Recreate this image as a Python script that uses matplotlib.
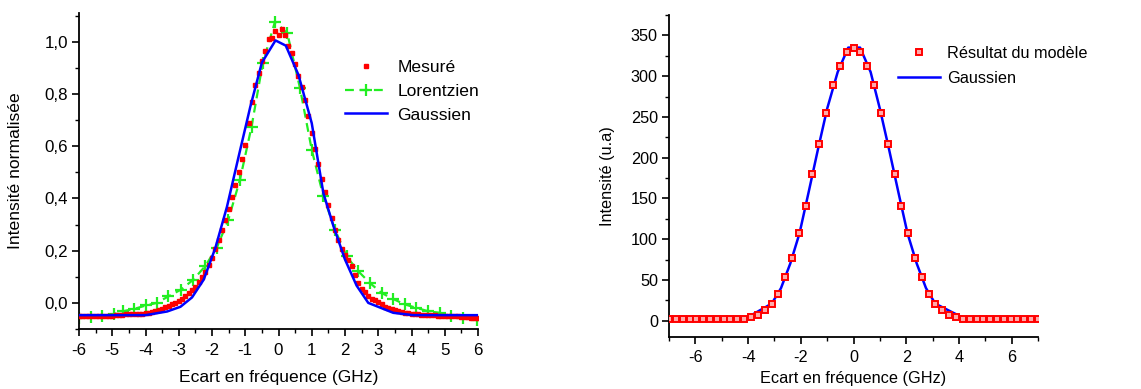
import numpy as np
import matplotlib
matplotlib.use("Agg")
import matplotlib.pyplot as plt
from matplotlib.ticker import MultipleLocator, FixedLocator

plt.rcParams['font.family'] = ['Liberation Sans', 'DejaVu Sans']
plt.rcParams['axes.unicode_minus'] = False

# ---------------- Left panel data ----------------
mesure_x = np.round(np.linspace(-6.0, 6.0, 121), 2)
mesure_y = [
    -0.052, -0.052, -0.051, -0.051, -0.050, -0.050, -0.050, -0.050, -0.050, -0.050,
    -0.049, -0.048, -0.046, -0.045, -0.044, -0.044, -0.043, -0.043, -0.042, -0.041,
    -0.040, -0.037, -0.034, -0.031, -0.027, -0.022, -0.017, -0.012, -0.006, 0.000,
    0.007, 0.015, 0.025, 0.036, 0.048, 0.062, 0.080, 0.098, 0.120, 0.145,
    0.172, 0.205, 0.240, 0.278, 0.318, 0.360, 0.405, 0.452, 0.500, 0.550,
    0.605, 0.690, 0.770, 0.835, 0.880, 0.925, 0.965, 1.010, 1.015, 1.040,
    1.025, 1.050, 1.025, 0.985, 0.955, 0.915, 0.870, 0.825, 0.775, 0.715,
    0.650, 0.590, 0.530, 0.475, 0.425, 0.375, 0.325, 0.280, 0.240, 0.205,
    0.185, 0.165, 0.140, 0.105, 0.078, 0.055, 0.040, 0.025, 0.015, 0.012,
    0.003, -0.005, -0.015, -0.020, -0.025, -0.028, -0.032, -0.035, -0.037, -0.040,
    -0.042, -0.043, -0.044, -0.045, -0.046, -0.046, -0.047, -0.048, -0.049, -0.050,
    -0.050, -0.051, -0.051, -0.052, -0.052, -0.053, -0.054, -0.055, -0.056, -0.057,
    -0.058,
]

lorentz_x = [-6.0, -5.65, -5.3, -4.95, -4.67, -4.34, -3.99, -3.66, -3.31, -2.93,
             -2.56, -2.21, -1.86, -1.51, -1.16, -0.81, -0.475, -0.105, 0.265, 0.647,
             1.0, 1.35, 1.7, 2.05, 2.4, 2.75, 3.1, 3.45, 3.8, 4.15,
             4.5, 4.85, 5.2, 5.55, 5.96]
lorentz_y = [-0.058, -0.055, -0.050, -0.043, -0.032, -0.023, -0.010, 0.000, 0.025, 0.051,
             0.089, 0.140, 0.210, 0.318, 0.471, 0.675, 0.917, 1.077, 1.032, 0.822,
             0.586, 0.408, 0.280, 0.178, 0.121, 0.076, 0.038, 0.015, -0.006, -0.019,
             -0.032, -0.038, -0.051, -0.057, -0.064]

gauss_l_x = [-6.0, -4.0, -3.35, -2.95, -2.6, -2.25, -1.9, -1.55, -1.2, -0.85,
             -0.5, -0.09, 0.22, 0.6, 1.0, 1.35, 1.65, 2.0, 2.35, 2.7,
             3.45, 4.05, 6.0]
gauss_l_y = [-0.047, -0.047, -0.033, -0.015, 0.021, 0.089, 0.210, 0.368, 0.560, 0.750,
             0.920, 1.005, 0.985, 0.873, 0.688, 0.420, 0.295, 0.166, 0.066, 0.000,
             -0.038, -0.047, -0.047]

left_yticks = [0.0, 0.2, 0.4, 0.6, 0.8, 1.0]
left_yticklabels = ['0,0', '0,2', '0,4', '0,6', '0,8', '1,0']
left_xticks = [-6, -5, -4, -3, -2, -1, 0, 1, 2, 3, 4, 5, 6]

# ---------------- Right panel data ----------------
modele_x = np.round(np.linspace(-7.0, 7.0, 55), 3)
modele_y = [2, 2, 2, 2, 2, 2, 2, 2, 2, 2, 2,
            2.5, 4, 7, 13, 21, 33, 53, 77, 107, 141,
            180, 217, 255, 289, 313, 330,
            335,
            330, 313, 289, 255, 217, 180,
            141, 107, 77, 53, 33, 21, 13, 7, 4, 2.5,
            2, 2, 2, 2, 2, 2, 2, 2, 2, 2, 2]

gauss_r_x = [-7.0, -5.0, -4.0, -3.1, -2.75, -2.4, -2.05, -1.7, -1.35, -1.0,
             -0.6, -0.2, 0.25, 0.65, 1.0, 1.35, 1.7, 2.05, 2.4, 2.75,
             3.1, 4.1, 4.7, 7.0]
gauss_r_y = [2, 2, 4.5, 21, 40, 70, 107, 158, 210, 260,
             305, 335, 335, 305, 260, 210, 158, 107, 70, 40,
             21, 4.5, 3, 2]

right_xticks = [-6, -4, -2, 0, 2, 4, 6]
right_yticks = [0, 50, 100, 150, 200, 250, 300, 350]

RED = '#ff0000'
GREEN = '#22ee22'
BLUE = '#0000ff'

fig = plt.figure(figsize=(11.41, 3.89), dpi=100)

def style_axes(ax, fs, pad):
    ax.spines['top'].set_visible(False)
    ax.spines['right'].set_visible(False)
    ax.spines['left'].set_linewidth(1.3)
    ax.spines['bottom'].set_linewidth(1.3)
    ax.tick_params(which='major', direction='out', length=5, width=1.2,
                   labelsize=fs, pad=pad, color='black')
    ax.tick_params(which='minor', direction='out', length=3, width=1.0, color='black')

# ---- Left ----
axL = fig.add_axes([79/1141, 1-329/389, (478-79)/1141, (329-13)/389])
axL.plot(mesure_x, mesure_y, linestyle='none', marker='s', ms=3.2, color=RED,
         mec=RED, label='Mesuré', zorder=3)
axL.plot(lorentz_x, lorentz_y, linestyle=(0, (4, 2.5)), lw=1.6, color=GREEN,
         marker='+', ms=8, mew=1.6, label='Lorentzien', zorder=2)
axL.plot(gauss_l_x, gauss_l_y, '-', lw=1.8, color=BLUE, label='Gaussien', zorder=4)
axL.set_xlim(-6, 6)
axL.set_ylim(-0.1, 1.11)
axL.xaxis.set_major_locator(FixedLocator(left_xticks))
axL.xaxis.set_minor_locator(MultipleLocator(0.5))
axL.yaxis.set_major_locator(FixedLocator(left_yticks))
axL.set_yticklabels(left_yticklabels)
axL.yaxis.set_minor_locator(MultipleLocator(0.1))
style_axes(axL, 12.2, 3)
axL.tick_params(axis='x', which='major', pad=5)
axL.set_xlabel('Ecart en fréquence (GHz)', fontsize=12.6, labelpad=9)
axL.set_ylabel('Intensité normalisée', fontsize=12.6, labelpad=15)
axL.legend(loc='upper left', bbox_to_anchor=(345/1141, 1-60/389),
           bbox_transform=fig.transFigure, frameon=False, fontsize=12.6,
           handlelength=2.4, handletextpad=0.6, labelspacing=0.48,
           borderpad=0, borderaxespad=0, numpoints=1)

# ---- Right ----
axR = fig.add_axes([669/1141, 1-337/389, (1038-669)/1141, (337-15)/389])
axR.plot(gauss_r_x, gauss_r_y, '-', lw=1.8, color=BLUE, label='Gaussien', zorder=2)
axR.plot(modele_x, modele_y, linestyle='none', marker='s', ms=4.3, mew=1.4,
         mec=RED, mfc='#ffaaaa', label='Résultat du modèle', zorder=3)
axR.set_xlim(-7, 7)
axR.set_ylim(-20, 375)
axR.xaxis.set_major_locator(FixedLocator(right_xticks))
axR.xaxis.set_minor_locator(MultipleLocator(1))
axR.yaxis.set_major_locator(FixedLocator(right_yticks))
axR.yaxis.set_minor_locator(MultipleLocator(25))
style_axes(axR, 11.7, 3)
axR.tick_params(axis='x', which='major', pad=4)
axR.set_xlabel('Ecart en fréquence (GHz)', fontsize=11.7, labelpad=5)
axR.set_ylabel('Intensité (u.a)', fontsize=11.7, labelpad=11)
h, l = axR.get_legend_handles_labels()
axR.legend([h[1], h[0]], [l[1], l[0]], loc='upper left',
           bbox_to_anchor=(898/1141, 1-46/389), bbox_transform=fig.transFigure,
           frameon=False, fontsize=11.7, handlelength=2.6, handletextpad=0.4,
           labelspacing=0.62, borderpad=0, borderaxespad=0, numpoints=1)

fig.savefig('out.png', dpi=100)
